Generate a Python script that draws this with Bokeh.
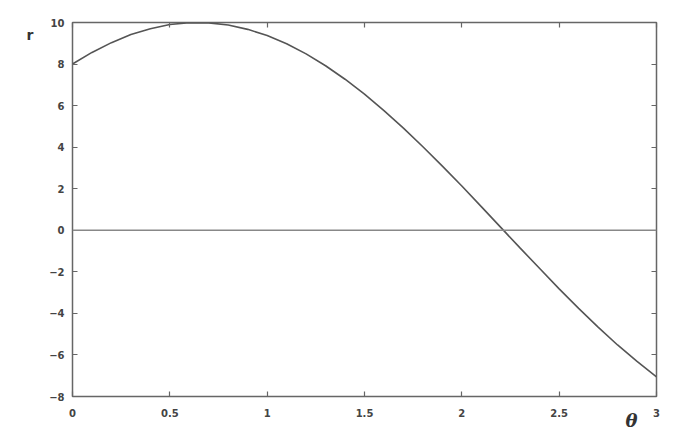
from bokeh.plotting import figure
from bokeh.models import LinearAxis, FixedTicker, Span, Range1d, Title
from bokeh.embed import file_html
from bokeh.resources import INLINE

# Data
theta = [0.0, 0.1, 0.2, 0.3, 0.4, 0.5, 0.6, 0.7, 0.8, 0.9, 1.0,
         1.1, 1.2, 1.3, 1.4, 1.5, 1.6, 1.7, 1.8, 1.9, 2.0,
         2.1, 2.2, 2.3, 2.4, 2.5, 2.6, 2.7, 2.8, 2.9, 3.0]
r = [8.00, 8.56, 9.03, 9.42, 9.70, 9.90, 9.99, 9.98, 9.88, 9.67, 9.37,
     8.98, 8.49, 7.92, 7.27, 6.55, 5.76, 4.92, 4.02, 3.09, 2.13,
     1.14, 0.14, -0.86, -1.84, -2.82, -3.76, -4.66, -5.52, -6.31, -7.05]
x_ticks = [0, 0.5, 1, 1.5, 2, 2.5, 3]
y_ticks = [-8, -6, -4, -2, 0, 2, 4, 6, 8, 10]

p = figure(width=661, height=432, output_backend="svg", toolbar_location=None,
           x_range=Range1d(0, 3), y_range=Range1d(-8, 10),
           min_border_left=72, min_border_right=5, min_border_top=22, min_border_bottom=36)
p.grid.visible = False
p.outline_line_color = "#666666"
p.outline_line_width = 1.5
p.background_fill_color = "white"
p.border_fill_color = "white"

def style(ax, labels=True):
    ax.axis_line_color = None
    ax.major_tick_in = 5
    ax.major_tick_out = 0
    ax.minor_tick_line_color = None
    ax.major_tick_line_color = "#666666"
    ax.major_tick_line_width = 1.2
    ax.major_label_text_font = "DejaVu Sans"
    ax.major_label_text_font_size = "10px"
    ax.major_label_text_color = "#444444"
    ax.major_label_text_font_style = "bold"
    if not labels:
        ax.major_label_text_alpha = 0
        ax.major_label_text_font_size = "0px"
        ax.major_label_standoff = 0

p.xaxis.ticker = FixedTicker(ticks=x_ticks)
p.yaxis.ticker = FixedTicker(ticks=y_ticks)
xa = p.xaxis[0]
ya = p.yaxis[0]
style(xa)
style(ya)
xa.major_label_standoff = 12
ya.major_label_standoff = 8

top = LinearAxis(ticker=FixedTicker(ticks=x_ticks))
style(top, labels=False)
p.add_layout(top, "above")
right = LinearAxis(ticker=FixedTicker(ticks=y_ticks))
style(right, labels=False)
p.add_layout(right, "right")

# "r" title at the top left, beside the frame
p.title.text = "r"
p.title.align = "left"
p.title.offset = -46
p.title.standoff = -40
p.title.vertical_align = "bottom"
p.title.text_font = "DejaVu Sans"
p.title.text_font_size = "14px"
p.title.text_font_style = "bold"
p.title.text_color = "#333333"

# "θ" title at the bottom right
tt = Title(text="θ", align="right", offset=19, standoff=-20, vertical_align="top",
           text_font="DejaVu Serif", text_font_size="18px", text_font_style="bold italic",
           text_color="#333333")
p.add_layout(tt, "below")

p.add_layout(Span(location=0, dimension="width", line_color="#888888", line_width=1.5))
p.line(theta, r, line_color="#555555", line_width=1.6)

open("out.html", "w").write(file_html(p, INLINE))
